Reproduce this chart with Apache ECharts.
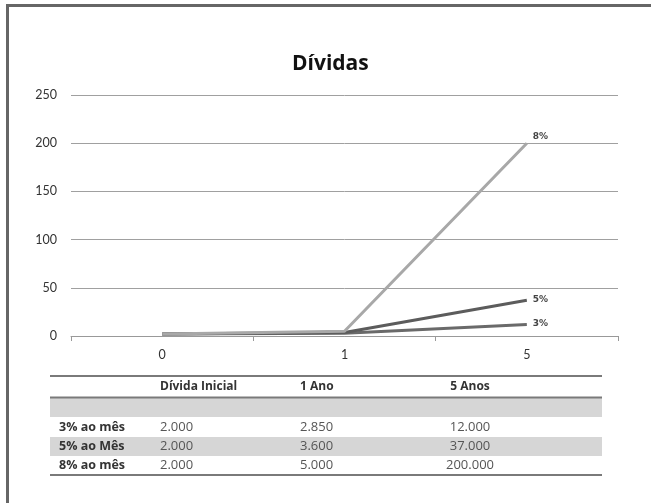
<!DOCTYPE html>
<html>
<head>
<meta charset="utf-8">
<script src="https://cdn.jsdelivr.net/npm/echarts@6/dist/echarts.min.js"></script>
<style>
html,body{margin:0;padding:0;background:#fff;}
#chart{width:651px;height:503px;}
</style>
</head>
<body>
<div id="chart"></div>
<script>
// ---- data ----
var title = 'Dívidas';
var categories = ['0', '1', '5'];
var seriesNames = ['3%', '5%', '8%'];
var values3 = [2, 2.85, 12];
var values5 = [2, 3.6, 37];
var values8 = [2, 5, 200];
var yTicks = [0, 50, 100, 150, 200, 250];
var tableHeaders = ['Dívida Inicial', '1 Ano', '5 Anos'];
var tableRowLabels = ['3% ao mês', '5% ao Mês', '8% ao mês'];

// ---- helpers ----
function fmt(v) {
  var n = Math.round(v * 1000);
  var s = String(n);
  return s.replace(/\B(?=(\d{3})+(?!\d))/g, '.');
}

var chart = echarts.init(document.getElementById('chart'), null, {renderer: 'canvas'});
var FONT = 'Lato';
var TFONT = 'Open Sans';
var lineColors = ['#6a6a6a', '#5c5c5c', '#a8a8a8'];
var allValues = [values3, values5, values8];

var series = allValues.map(function (vals, i) {
  return {
    name: seriesNames[i],
    type: 'line',
    data: vals,
    symbol: 'none',
    z: 2 + (i === 2 ? 2 : 0),
    lineStyle: {color: lineColors[i], width: 3},
    endLabel: {
      show: true,
      formatter: seriesNames[i],
      fontFamily: 'DejaVu Sans',
      fontSize: 9,
      fontWeight: 'bold',
      color: '#444',
      distance: 6,
      offset: i === 2 ? [0, -7] : [0, -1]
    },
    animation: false
  };
});

// ---- table as graphic elements ----
var tblLeft = 50, tblRight = 602;
var colX = [59, 160, 300, 470];
var graphics = [];
// frame
graphics.push({type: 'rect', shape: {x: 7.5, y: 5.5, width: 800, height: 700}, style: {fill: null, stroke: '#666', lineWidth: 3}, z: 100});
// gray bands
graphics.push({type: 'rect', shape: {x: tblLeft, y: 398, width: tblRight - tblLeft, height: 19}, style: {fill: '#d6d6d6'}, z: 1});
graphics.push({type: 'rect', shape: {x: tblLeft, y: 437, width: tblRight - tblLeft, height: 19}, style: {fill: '#d6d6d6'}, z: 1});
// lines
[376, 397.5, 475].forEach(function (y) {
  graphics.push({type: 'line', shape: {x1: tblLeft, y1: y, x2: tblRight, y2: y}, style: {stroke: '#7a7a7a', lineWidth: 2}, z: 2});
});
// headers
tableHeaders.forEach(function (h, i) {
  graphics.push({type: 'text', x: colX[i + 1], y: 387, z: 3, style: {
    text: h, fontFamily: TFONT, fontSize: 12, fill: '#333', fontWeight: 'bold',
    align: i === 2 ? 'center' : 'left', verticalAlign: 'middle'}});
});
var rowY = [427, 446, 465];
tableRowLabels.forEach(function (lab, r) {
  graphics.push({type: 'text', x: colX[0], y: rowY[r], z: 3, style: {
    text: lab, fontFamily: TFONT, fontSize: 12.5, fill: '#333', fontWeight: 'bold', verticalAlign: 'middle'}});
  allValues[r].forEach(function (v, c) {
    graphics.push({type: 'text', x: colX[c + 1], y: rowY[r], z: 3, style: {
      text: fmt(v), fontFamily: TFONT, fontSize: 13, fill: '#555',
      align: c === 2 ? 'center' : 'left', verticalAlign: 'middle'}});
  });
});

chart.setOption({
  backgroundColor: '#fff',
  animation: false,
  title: {
    text: title, left: 287, top: 49,
    textStyle: {fontFamily: TFONT, fontSize: 21, fontWeight: 'bold', color: '#111'}
  },
  grid: {left: 71, right: 33, top: 95, bottom: 167, containLabel: false},
  xAxis: {
    type: 'category', data: categories, boundaryGap: true,
    axisLine: {lineStyle: {color: '#999', width: 1}},
    axisTick: {show: true, length: 5, lineStyle: {color: '#999'}},
    axisLabel: {fontFamily: FONT, fontSize: 12.5, color: '#333', margin: 12}
  },
  yAxis: {
    type: 'value', min: yTicks[0], max: yTicks[yTicks.length - 1], interval: 50,
    axisLine: {show: false}, axisTick: {show: false},
    splitLine: {lineStyle: {color: '#a0a0a0', width: 1}},
    axisLabel: {fontFamily: FONT, fontSize: 12.5, color: '#333', margin: 14}
  },
  series: series,
  graphic: graphics
});
</script>
</body>
</html>
